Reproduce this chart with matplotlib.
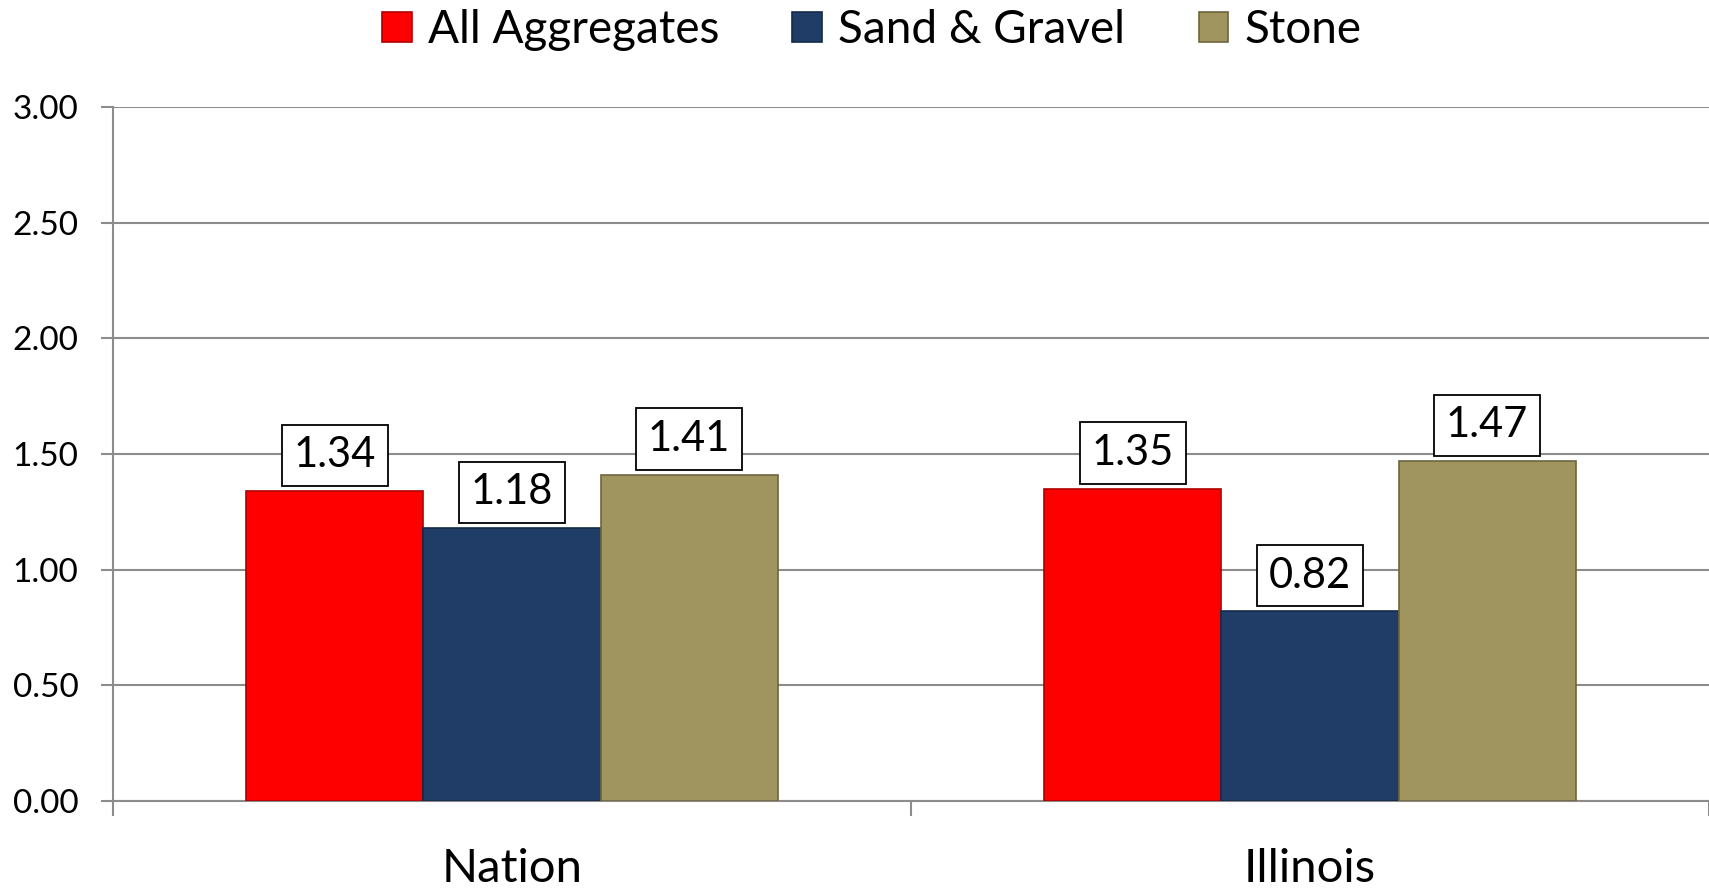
import matplotlib.pyplot as plt
import numpy as np

plt.rcParams['font.family'] = ['Lato', 'DejaVu Sans']

categories = ["Nation", "Illinois"]
series = ["All Aggregates", "Sand & Gravel", "Stone"]
all_agg = [1.34, 1.35]
sand_gravel = [1.18, 0.82]
stone = [1.41, 1.47]
yticks = [0.0, 0.5, 1.0, 1.5, 2.0, 2.5, 3.0]

colors = ["#FE0000", "#1F3D66", "#A0955E"]
edges = ["#B00000", "#152A48", "#6E6640"]

fig = plt.figure(figsize=(17.09, 8.91), dpi=100)
ax = fig.add_axes([113 / 1709, 1 - 801 / 891, 1 - 113 / 1709, (801 - 107) / 891])

x = np.arange(len(categories))
w = 0.222
for i, vals in enumerate([all_agg, sand_gravel, stone]):
    pos = x + (i - 1) * w
    ax.bar(pos, vals, w, color=colors[i], edgecolor=edges[i], linewidth=1.2,
           label=series[i], zorder=3)
    for px, v in zip(pos, vals):
        ax.annotate(f"{v:.2f}", (px, v), xytext=(0, 12), textcoords="offset points",
                    ha="center", va="bottom", fontsize=30, zorder=4,
                    bbox=dict(boxstyle="square,pad=0.28", fc="white", ec="black", lw=1.3))

ax.set_xlim(-0.5, 1.5)
ax.set_ylim(0, 3.0)
ax.set_yticks(yticks)
ax.set_yticklabels([f"{t:.2f}" for t in yticks], fontsize=24)
ax.yaxis.grid(True, color="#8C8C8C", linewidth=1.5, zorder=0)
ax.set_xticks([-0.5, 0.5, 1.5])
ax.set_xticklabels([])
ax.set_xticks(x, minor=True)
ax.set_xticklabels(categories, minor=True, fontsize=34)
ax.tick_params(axis="x", which="minor", length=0, pad=34)
ax.tick_params(axis="x", which="major", length=11, color="#8C8C8C", width=1.5, direction="out")
ax.tick_params(axis="y", length=9, color="#8C8C8C", width=1.5, pad=16)
for s in ["top", "right"]:
    ax.spines[s].set_visible(False)
for s in ["left", "bottom"]:
    ax.spines[s].set_color("#8C8C8C")
    ax.spines[s].set_linewidth(1.5)

fig.legend(loc="center", bbox_to_anchor=(0.51, 1 - 30 / 891), ncol=3, frameon=False,
           fontsize=33, handlelength=0.65, handleheight=0.65, handletextpad=0.35,
           columnspacing=1.6)

fig.savefig("out.png", dpi=100)
